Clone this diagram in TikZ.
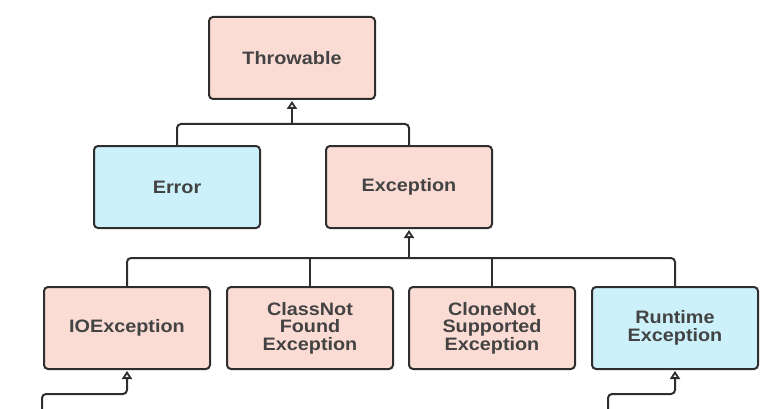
\documentclass[tikz,border=0pt]{standalone}
\usepackage{fontspec}
\setmainfont{Liberation Sans}
\newfontfamily\classfont[FakeStretch=1.1]{Liberation Sans}
\usetikzlibrary{arrows.meta,positioning,calc}
\definecolor{boxpink}{HTML}{FBDCD5}
\definecolor{boxblue}{HTML}{CDF1FB}
\definecolor{ink}{HTML}{2E2E2E}
\tikzset{
  class/.style   = {draw=ink, line width=2pt, rounded corners=4pt, minimum width=166pt,
                    minimum height=82pt, align=center, text=ink!90,
                    font=\classfont\fontsize{18}{17.5}\selectfont\bfseries},
  checked/.style   = {class, fill=boxpink},
  unchecked/.style = {class, fill=boxblue},
  tree/.style    = {draw=ink, line width=2pt, rounded corners=4pt},
  inherit/.style = {tree, -{Triangle[open, length=8pt, width=10pt, line width=1.8pt]}, shorten >=1pt}
}
\begin{document}
\begin{tikzpicture}[x=1pt, y=-1pt]
      \useasboundingbox (0,0) rectangle (773,409);
      \node[checked] (throwable) at (292,58) {Throwable};
      \node[unchecked] (error) at (177,187) {Error};
      \node[checked] (exception) at (409,187) {Exception};
      \node[checked] (io) at (127,328) {IOException};
      \node[checked] (cnf) at (310,328) {ClassNot\\Found\\Exception};
      \node[checked] (cns) at (492,328) {CloneNot\\Supported\\Exception};
      \node[unchecked] (rt) at (675,328) {Runtime\\Exception};
      % joints of the tree
      \coordinate (j1) at (292,124);
      \coordinate (j2) at (409,258);
      \coordinate (ioin) at (42,412);
      \coordinate (iojoin) at (127,394);
      \coordinate (rtin) at (608,412);
      \coordinate (rtjoin) at (675,394);
      \draw[tree] (error.north) |- (j1) -| (exception.north);
      \draw[inherit] (j1) -- (throwable.south);
      \draw[tree] (io.north) |- (j2) -| (rt.north);
      \draw[tree] (cnf.north) -- (cnf.north |- j2);
      \draw[tree] (cns.north) -- (cns.north |- j2);
      \draw[inherit] (j2) -- (exception.south);
      \draw[inherit] (ioin) |- (iojoin) -- (io.south);
      \draw[inherit] (rtin) |- (rtjoin) -- (rt.south);
\end{tikzpicture}
\end{document}
